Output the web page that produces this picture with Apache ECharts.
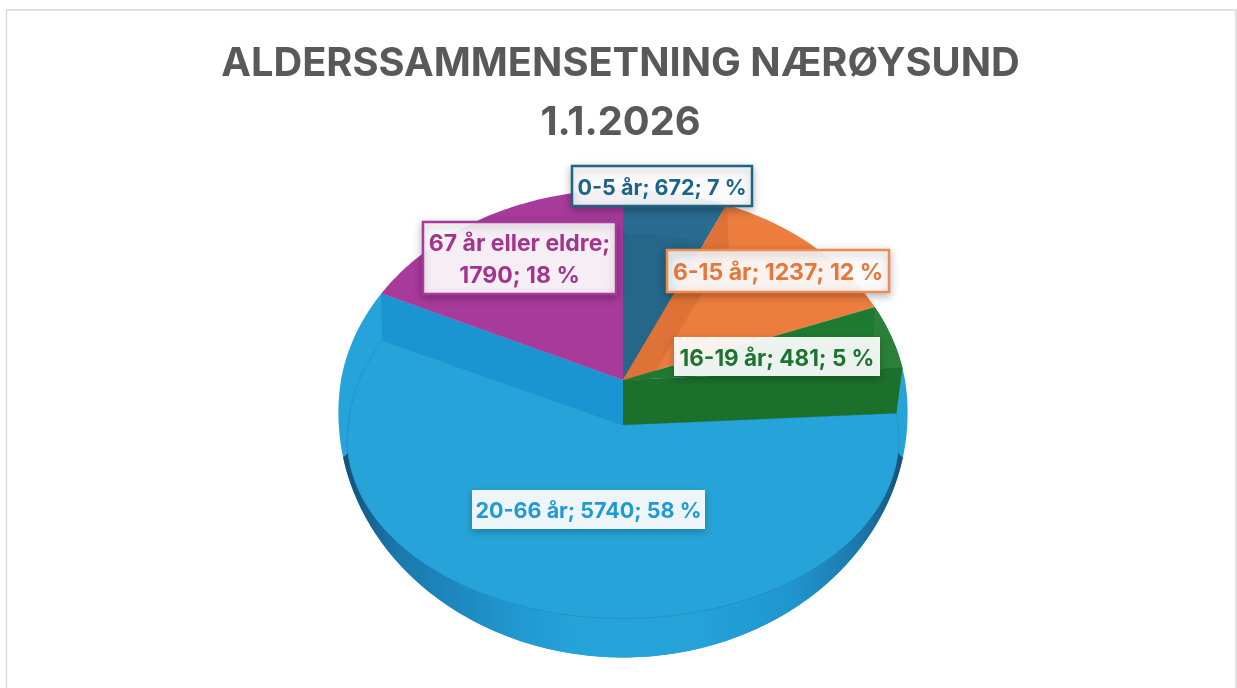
<!DOCTYPE html>
<html><head><meta charset="utf-8">
<style>html,body{margin:0;padding:0;background:#fff}#c{width:1237px;height:688px}</style>
<script src="https://cdn.jsdelivr.net/npm/echarts@6/dist/echarts.min.js"></script>
</head><body><div id="c"></div>
<script>
const categories = ['0-5 år', '6-15 år', '16-19 år', '20-66 år', '67 år eller eldre'];
const values = [672, 1237, 481, 5740, 1790];
const titleLines = ['ALDERSSAMMENSETNING NÆRØYSUND', '1.1.2026'];

const total = values.reduce((a, b) => a + b, 0);
const starts = []; let acc = 0;
values.forEach(v => { starts.push(acc / total * 360); acc += v; });
const ends = starts.map((s, i) => s + values[i] / total * 360);

const cx = 623;
const topPlane = { cy: 380, rx: 282, ryB: 216, ryF: 216, k: 0.135 };
const floorPlane = { cy: 425, rx: 275, ryB: 207, ryF: 178, k: 0.08 };
const outline = { cy: 380, rx: 282, ryB: 216, ryF: 240, k: 0.135 };
function P(pl, deg) {
  const t = deg * Math.PI / 180, s = Math.sin(t), c = Math.cos(t);
  const w = 1 + pl.k * c;
  return [cx + pl.rx * s / w, pl.cy - (c >= 0 ? pl.ryB : pl.ryF) * c / w];
}
function arc(pl, a, b) {
  const out = [], n = Math.max(2, Math.ceil(Math.abs(b - a)));
  for (let i = 0; i <= n; i++) out.push(P(pl, a + (b - a) * i / n));
  return out;
}
const apex = [cx, topPlane.cy], floorApex = [cx, floorPlane.cy];
const poly = (points, fill, z2, extra) => ({ type: 'polygon', silent: true, z2,
  shape: { points }, style: Object.assign({ fill }, extra || {}) });

const looks = [
  { text: '#1d6488', fill: '#2a6b91', line: '#1f6583', box: [572, 166, 180, 40], z: 3, font: 21.5 },
  { text: '#e8753a', fill: '#ec7d3f', line: '#ee8a52', box: [667, 250, 222, 42], z: 4, font: 23 },
  { text: '#1c7430', fill: '#1f7a31', line: null, box: [674, 337, 206, 39], z: 6, font: 22.5 },
  { text: '#1f9ad6', fill: '#26a4d9', line: null, box: [472, 490, 233, 39], z: 1, font: 21.5 },
  { text: '#a3358f', fill: '#a83a9c', line: '#a83a9c', box: [423, 222, 193, 72], z: 2, font: 23 }
];

function shapes(i) {
  const a = starts[i], b = ends[i], l = looks[i], out = [];
  if (i === 3) {
    const body = [apex].concat(arc(topPlane, b, 270), arc(outline, 270, a));
    out.push(poly(body, l.fill, 1));
    const side = arc(outline, 108, 252).concat(arc(floorPlane, 261, 99));
    out.push(poly(side, {
      type: 'linear', x: 0, y: 0, x2: 1, y2: 0,
      colorStops: [
        { offset: 0, color: '#174f78' }, { offset: 0.1, color: '#1a79ad' },
        { offset: 0.3, color: '#2197cf' }, { offset: 0.42, color: '#25a3d9' },
        { offset: 0.62, color: '#25a3d9' }, { offset: 0.8, color: '#2096ce' },
        { offset: 0.93, color: '#1b76a8' }, { offset: 1, color: '#174f78' }
      ]
    }, 2));
    out.push(poly([floorApex].concat(arc(floorPlane, a, b)), l.fill, 3, { stroke: 'rgba(22,110,160,0.3)', lineWidth: 1 }));
    out.push(poly([apex, P(topPlane, b), P(floorPlane, b), floorApex], '#1b95d1', 4));
  } else {
    out.push(poly([apex].concat(arc(topPlane, a, b)), l.fill, 10 + l.z * 2));
    if (i === 0) {
      out.push(poly([apex].concat(arc(floorPlane, a, b)), '#266689', 11 + l.z * 2));
    }
    if (i === 1) {
      out.push(poly([apex, P(topPlane, a), P(floorPlane, a), floorApex], '#df7236', 11 + l.z * 2));
    }
    if (i === 2) {
      out.push(poly(arc(topPlane, a, b).concat(arc(floorPlane, b, a)), '#2b8139', 11 + l.z * 2));
      out.push(poly([apex, P(topPlane, b), P(floorPlane, b), floorApex], '#1b712c', 12 + l.z * 2));
    }
  }
  const [x, y, w, h] = l.box;
  const pct = Math.round(values[i] / total * 100);
  const txt = i === 4
    ? categories[i] + ';\n' + values[i] + '; ' + pct + ' %'
    : categories[i] + '; ' + values[i] + '; ' + pct + ' %';
  out.push({ type: 'rect', silent: true, z2: 40,
    shape: { x, y, width: w, height: h },
    style: { fill: 'rgba(255,255,255,0.92)', stroke: l.line, lineWidth: l.line ? 2.5 : 0,
      shadowBlur: 8, shadowOffsetY: 3, shadowColor: 'rgba(0,0,0,0.28)' } });
  out.push({ type: 'text', silent: true, z2: 41,
    style: { x: x + w / 2, y: y + h / 2 + 2.5, text: txt, align: 'center', verticalAlign: 'middle',
      fill: l.text, font: 'bold ' + l.font + 'px Inter', lineHeight: 32 } });
  return out;
}

const chart = echarts.init(document.getElementById('c'), null, { renderer: 'canvas' });
chart.setOption({
  animation: false,
  backgroundColor: '#ffffff',
  title: {
    text: titleLines.join('\n'), left: 615.5, top: 30,
    textAlign: 'center',
    textStyle: { fontFamily: 'Inter', fontWeight: 'bold', fontSize: 39.8, color: '#595959', lineHeight: 59, align: 'center' }
  },
  graphic: [{ type: 'rect', silent: true, z: -1, shape: { x: 6.5, y: 10, width: 1229.5, height: 700 },
    style: { fill: '#fff', stroke: '#d9d9d9', lineWidth: 1.5 } }],
  series: [{
    type: 'custom', coordinateSystem: 'none', name: 'Alderssammensetning',
    data: values.map((v, i) => ({ name: categories[i], value: v })),
    renderItem: (params) => ({ type: 'group', children: shapes(params.dataIndex) })
  }]
});
</script></body></html>
